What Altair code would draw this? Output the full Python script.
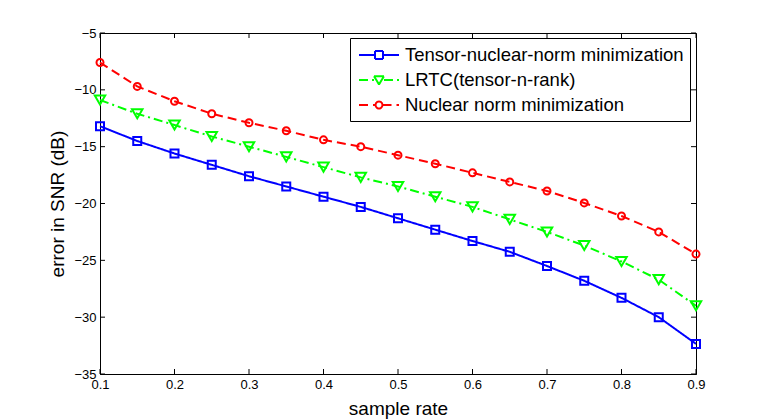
import altair as alt
import pandas as pd

x_vals = [0.1, 0.15, 0.2, 0.25, 0.3, 0.35, 0.4, 0.45, 0.5, 0.55, 0.6, 0.65, 0.7, 0.75, 0.8, 0.85, 0.9]
tensor_nn = [-13.2, -14.5, -15.6, -16.6, -17.6, -18.5, -19.4, -20.3, -21.3, -22.3, -23.3, -24.25, -25.5, -26.8, -28.3, -30.0, -32.35]
lrtc = [-10.9, -12.1, -13.1, -14.1, -15.0, -15.9, -16.8, -17.7, -18.5, -19.4, -20.3, -21.4, -22.5, -23.7, -25.1, -26.7, -29.0]
nuclear = [-7.6, -9.7, -11.0, -12.1, -12.9, -13.6, -14.4, -15.0, -15.75, -16.5, -17.3, -18.1, -18.9, -19.95, -21.1, -22.5, -24.45]

series_names = ["Tensor-nuclear-norm minimization", "LRTC(tensor-n-rank)", "Nuclear norm minimization"]
series_colors = ["#0000FF", "#00FF00", "#FF0000"]
series_dash = [[1, 0], [9, 4, 2, 4], [9, 5]]
series_shape = ["square", "triangle-down", "circle"]
series_size = [64, 110, 49]
# legend glyphs: line with the marker drawn in the middle (marker split in short sub-paths so dashes don't break it)
legend_glyphs = [
    "M-2,0H-0.4M0.4,0H2"
    "M-0.4,-0.4H0.4M0.4,-0.4V0.4M0.4,0.4H-0.4M-0.4,0.4V-0.4",
    "M-2,0H-0.5M0.5,0H2"
    "M-0.5,-0.38H0M0,-0.38H0.5M0.5,-0.38L0.25,0.035M0.25,0.035L0,0.45M0,0.45L-0.25,0.035M-0.25,0.035L-0.5,-0.38",
    "M-2,0H-0.35M0.35,0H2"
    "M0.35,0A0.35,0.35,0,0,1,0.175,0.303"
    "M0.175,0.303A0.35,0.35,0,0,1,-0.175,0.303"
    "M-0.175,0.303A0.35,0.35,0,0,1,-0.35,0"
    "M-0.35,0A0.35,0.35,0,0,1,-0.175,-0.303"
    "M-0.175,-0.303A0.35,0.35,0,0,1,0.175,-0.303"
    "M0.175,-0.303A0.35,0.35,0,0,1,0.35,0",
]

x_ticks = [0.1, 0.2, 0.3, 0.4, 0.5, 0.6, 0.7, 0.8, 0.9]
y_ticks = [-35, -30, -25, -20, -15, -10, -5]

rows = []
for name, vals in zip(series_names, [tensor_nn, lrtc, nuclear]):
    for xv, yv in zip(x_vals, vals):
        rows.append({"rate": xv, "snr": yv, "series": name})
df = pd.DataFrame(rows)

W, H = 596, 341
FONT = "Liberation Sans"

xscale = alt.Scale(domain=[0.1, 0.9], nice=False, zero=False)
yscale = alt.Scale(domain=[-35, -5], nice=False, zero=False)

legend = alt.Legend(
    title=None,
    orient="none",
    legendX=250,
    legendY=5,
    labelFont=FONT,
    labelFontSize=18.5,
    labelColor="black",
    labelOffset=15,
    labelLimit=400,
    symbolSize=400,
    symbolOffset=12,
    symbolStrokeWidth=2,
    fillColor="white",
    strokeColor="black",
)

color_scale = alt.Scale(domain=series_names, range=series_colors)

x_enc = alt.X(
    "rate:Q",
    scale=xscale,
    axis=alt.Axis(values=x_ticks, format=".1f", title="sample rate", grid=False, labelFlush=False),
)
y_enc = alt.Y(
    "snr:Q",
    scale=yscale,
    axis=alt.Axis(values=y_ticks, format="d", title="error in SNR (dB)", grid=False, labelFlush=False),
)

lines = alt.Chart(df).mark_line(strokeWidth=2).encode(
    x=x_enc,
    y=y_enc,
    color=alt.Color("series:N", scale=color_scale, sort=series_names, legend=legend),
    strokeDash=alt.StrokeDash(
        "series:N",
        scale=alt.Scale(domain=series_names, range=series_dash),
        sort=series_names,
        legend=legend,
    ),
)

# empty layer that only supplies the legend glyphs
ghost = alt.Chart(df).transform_filter("false").mark_point(filled=False, strokeWidth=2, opacity=1).encode(
    x="rate:Q",
    y="snr:Q",
    color=alt.Color("series:N", scale=color_scale, sort=series_names, legend=legend),
    shape=alt.Shape(
        "series:N",
        scale=alt.Scale(domain=series_names, range=legend_glyphs),
        sort=series_names,
        legend=legend,
    ),
)

point_layers = []
for name, col, shp, sz in zip(series_names, series_colors, series_shape, series_size):
    point_layers.append(
        alt.Chart(df)
        .transform_filter(alt.datum.series == name)
        .mark_point(filled=False, strokeWidth=2, opacity=1, color=col, shape=shp, size=sz)
        .encode(x="rate:Q", y="snr:Q")
    )

xt = pd.DataFrame({"t": x_ticks})
yt = pd.DataFrame({"t": y_ticks})

xtick_bottom = alt.Chart(xt).mark_rule(color="black", strokeWidth=1).encode(
    x=alt.X("t:Q", scale=xscale), y=alt.value(H), y2=alt.value(H - 5)
)
xtick_top = alt.Chart(xt).mark_rule(color="black", strokeWidth=1).encode(
    x=alt.X("t:Q", scale=xscale), y=alt.value(0), y2=alt.value(5)
)
ytick_left = alt.Chart(yt).mark_rule(color="black", strokeWidth=1).encode(
    y=alt.Y("t:Q", scale=yscale), x=alt.value(0), x2=alt.value(5)
)
ytick_right = alt.Chart(yt).mark_rule(color="black", strokeWidth=1).encode(
    y=alt.Y("t:Q", scale=yscale), x=alt.value(W), x2=alt.value(W - 5)
)

chart = (
    alt.layer(xtick_bottom, xtick_top, ytick_left, ytick_right, lines, ghost, *point_layers)
    .properties(
        width=W,
        height=H,
        autosize=alt.AutoSizeParams(type="none"),
        padding={"left": 92, "top": 25, "right": 60, "bottom": 45},
        background="white",
    )
    .configure_view(stroke="black", strokeWidth=1)
    .configure_legend(rowPadding=4, padding=6)
    .configure_axis(
        domainColor="black",
        domainWidth=1,
        tickSize=0,
        labelFont=FONT,
        labelFontSize=13,
        labelColor="black",
        labelPadding=4,
        titleFont=FONT,
        titleFontSize=19,
        titleFontWeight="normal",
        titleColor="black",
    )
    .configure_axisX(titlePadding=8)
    .configure_axisY(titlePadding=6)
)

chart.save("out.html", embed_options={"renderer": "svg", "actions": False})
